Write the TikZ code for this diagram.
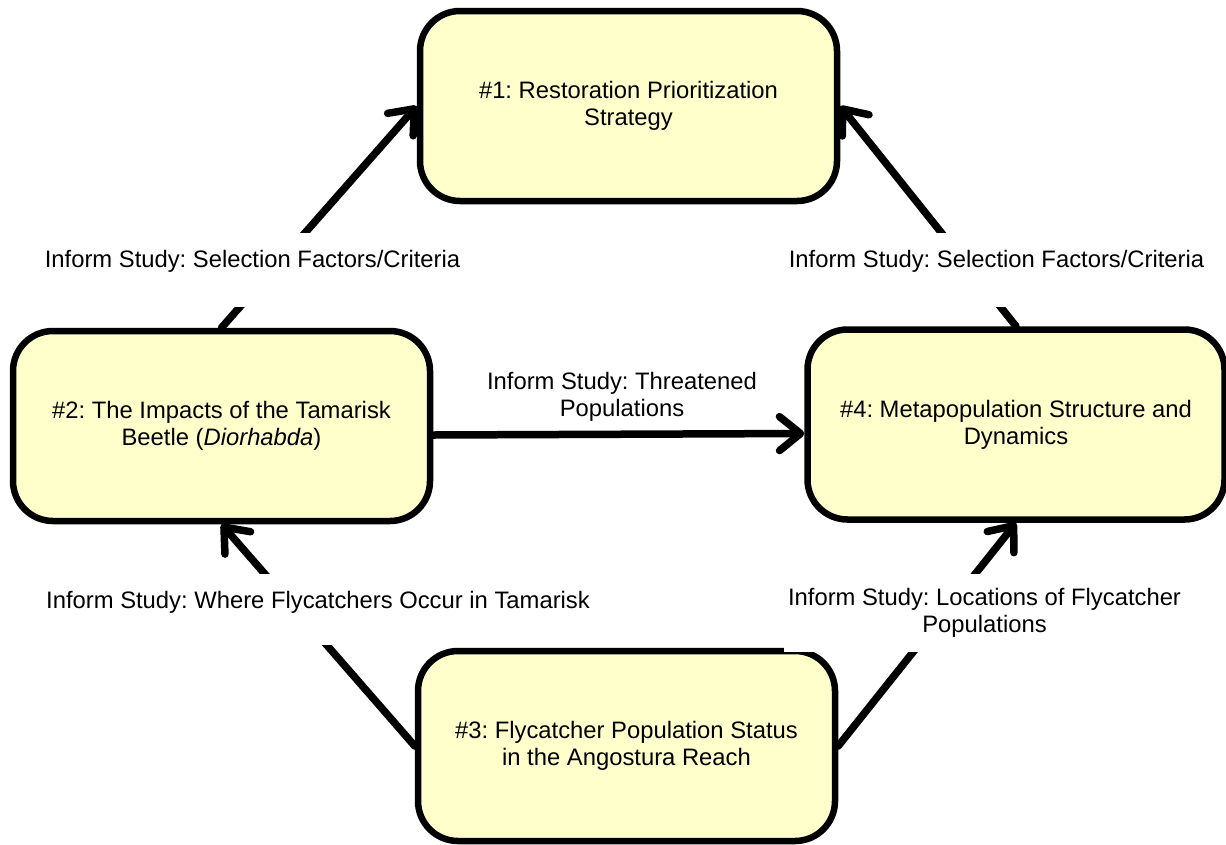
\documentclass[tikz,border=0pt]{standalone}
\usepackage{fontspec}
\setmainfont{Liberation Sans}
\usetikzlibrary{arrows.meta}
\definecolor{boxyellow}{RGB}{255,255,204}
\begin{document}
\frenchspacing
\begin{tikzpicture}[x=1pt,y=-1pt,
  txt/.style={font=\fontsize{23.8}{27}\selectfont},
  study/.style={txt, draw=black, line width=6.5pt, fill=boxyellow, rounded corners=40pt,
    minimum width=417pt, minimum height=190pt, align=center,
    execute at begin node={\rule{0pt}{28pt}}},
  flow/.style={line width=7.5pt, line cap=round,
    -{Straight Barb[length=21pt,width=34pt,round]}},
  tag/.style={txt, fill=white, inner xsep=4pt, inner ysep=0pt},
  tagone/.style={tag, anchor=base, text height=34pt, text depth=40pt},
  tagtwo/.style={tag, align=center, inner ysep=14pt}
]
\useasboundingbox (0,0) rectangle (1226,844);

% study boxes
\node[study] (s1) at (628.5,106) {\#1: Restoration Prioritization\\Strategy};
\node[study] (s2) at (221.5,426) {\#2: The Impacts of the Tamarisk\\Beetle (\textit{Diorhabda})};
\node[study] (s3) at (626.5,746) {\#3: Flycatcher Population Status\\in the Angostura Reach};
\node[study] (s4) at (1016,424.5) {\#4: Metapopulation Structure and\\Dynamics};

% information flows between the studies
\draw[flow] (s2.north) -- (s1.west);
\draw[flow] (s4.north) -- (s1.east);
\draw[flow] ([yshift=-9pt]s2.east) -- ([yshift=-9pt]s4.west);
\draw[flow] (s3.west) -- (s2.south);
\draw[flow] (s3.east) -- (s4.south);

% flow labels (white backgrounds break the lines beneath them)
\node[tagone] (l1) at (252.5,267) {Inform Study: Selection Factors/Criteria};
\node[tagone] (l2) at (996.5,267) {Inform Study: Selection Factors/Criteria};
\node[tagone, text depth=37pt] (l3) at (318,608) {Inform Study: Where Flycatchers Occur in Tamarisk};
\node[tagtwo] (l4) at (984.5,613) {Inform Study: Locations of Flycatcher\\Populations};
\node[txt, align=center, inner sep=0pt] (l5) at (622,397)
  {Inform Study: Threatened\\Populations};
\end{tikzpicture}
\end{document}
